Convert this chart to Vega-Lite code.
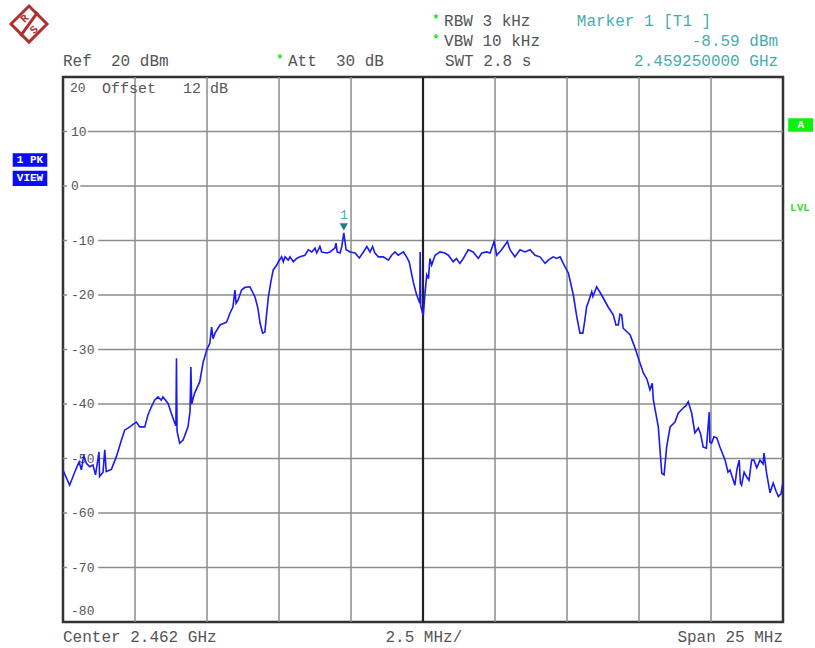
{
"$schema":"https://vega.github.io/schema/vega-lite/v6.json",
"autosize":{"type":"none"},
"width":720,"height":545,
"padding":{"left":63,"top":77,"right":32,"bottom":26},
"background":"white",
"config":{"axis":{"disable":true},"view":{"stroke":"#333333","strokeWidth":2.5},"text":{"font":"Liberation Mono"}},
"datasets":{
"trace":[{"mhz":0.00,"dbm":-52.1},{"mhz":0.23,"dbm":-54.9},{"mhz":0.46,"dbm":-51.8},{"mhz":0.56,"dbm":-50.6},{"mhz":0.64,"dbm":-52.1},{"mhz":0.72,"dbm":-49.4},{"mhz":0.81,"dbm":-50.9},{"mhz":0.93,"dbm":-51.5},{"mhz":1.04,"dbm":-51.2},{"mhz":1.13,"dbm":-53},{"mhz":1.25,"dbm":-48.8},{"mhz":1.27,"dbm":-53.3},{"mhz":1.39,"dbm":-52.5},{"mhz":1.45,"dbm":-48.4},{"mhz":1.50,"dbm":-52.4},{"mhz":1.68,"dbm":-52},{"mhz":1.85,"dbm":-49.7},{"mhz":2.03,"dbm":-46.6},{"mhz":2.14,"dbm":-44.8},{"mhz":2.32,"dbm":-44.2},{"mhz":2.49,"dbm":-43.5},{"mhz":2.55,"dbm":-43.3},{"mhz":2.66,"dbm":-44.2},{"mhz":2.84,"dbm":-44.2},{"mhz":2.95,"dbm":-42},{"mhz":3.07,"dbm":-40.5},{"mhz":3.18,"dbm":-39.3},{"mhz":3.30,"dbm":-38.7},{"mhz":3.41,"dbm":-39.3},{"mhz":3.47,"dbm":-38.7},{"mhz":3.65,"dbm":-39.9},{"mhz":3.76,"dbm":-41.7},{"mhz":3.88,"dbm":-43.5},{"mhz":3.92,"dbm":-44},{"mhz":3.94,"dbm":-31.6},{"mhz":3.96,"dbm":-45},{"mhz":4.05,"dbm":-47.2},{"mhz":4.17,"dbm":-46.6},{"mhz":4.34,"dbm":-44.2},{"mhz":4.41,"dbm":-41.4},{"mhz":4.44,"dbm":-33.2},{"mhz":4.47,"dbm":-40},{"mhz":4.57,"dbm":-38},{"mhz":4.75,"dbm":-35.9},{"mhz":4.86,"dbm":-32.5},{"mhz":4.99,"dbm":-30.1},{"mhz":5.10,"dbm":-28.8},{"mhz":5.16,"dbm":-25.9},{"mhz":5.21,"dbm":-28},{"mhz":5.28,"dbm":-27},{"mhz":5.45,"dbm":-25.5},{"mhz":5.68,"dbm":-25},{"mhz":5.80,"dbm":-23.3},{"mhz":5.90,"dbm":-22.2},{"mhz":5.97,"dbm":-19.1},{"mhz":6.01,"dbm":-21.5},{"mhz":6.08,"dbm":-20.9},{"mhz":6.20,"dbm":-19.1},{"mhz":6.32,"dbm":-18.6},{"mhz":6.49,"dbm":-18.5},{"mhz":6.67,"dbm":-20.4},{"mhz":6.77,"dbm":-22.5},{"mhz":6.84,"dbm":-25.1},{"mhz":6.93,"dbm":-27},{"mhz":7.01,"dbm":-26.8},{"mhz":7.06,"dbm":-24},{"mhz":7.13,"dbm":-20.4},{"mhz":7.22,"dbm":-17.5},{"mhz":7.30,"dbm":-15.4},{"mhz":7.42,"dbm":-14.5},{"mhz":7.48,"dbm":-13.9},{"mhz":7.59,"dbm":-13.0},{"mhz":7.65,"dbm":-13.9},{"mhz":7.71,"dbm":-13.0},{"mhz":7.82,"dbm":-13.6},{"mhz":7.88,"dbm":-13.0},{"mhz":8.00,"dbm":-13.9},{"mhz":8.11,"dbm":-13.3},{"mhz":8.23,"dbm":-13.0},{"mhz":8.40,"dbm":-12.7},{"mhz":8.52,"dbm":-11.7},{"mhz":8.64,"dbm":-12.1},{"mhz":8.75,"dbm":-11.4},{"mhz":8.81,"dbm":-12.3},{"mhz":8.92,"dbm":-11.1},{"mhz":8.98,"dbm":-12.1},{"mhz":9.16,"dbm":-12.3},{"mhz":9.27,"dbm":-12.1},{"mhz":9.44,"dbm":-11.4},{"mhz":9.48,"dbm":-10.5},{"mhz":9.52,"dbm":-12.1},{"mhz":9.62,"dbm":-12.3},{"mhz":9.68,"dbm":-11.1},{"mhz":9.75,"dbm":-8.59},{"mhz":9.83,"dbm":-11.7},{"mhz":9.97,"dbm":-12.1},{"mhz":10.14,"dbm":-12.3},{"mhz":10.29,"dbm":-13.2},{"mhz":10.43,"dbm":-12.1},{"mhz":10.55,"dbm":-11.1},{"mhz":10.66,"dbm":-12.1},{"mhz":10.75,"dbm":-11.1},{"mhz":10.83,"dbm":-12.3},{"mhz":10.95,"dbm":-13.0},{"mhz":11.12,"dbm":-13.0},{"mhz":11.30,"dbm":-13.6},{"mhz":11.41,"dbm":-12.7},{"mhz":11.53,"dbm":-12.1},{"mhz":11.64,"dbm":-12.7},{"mhz":11.82,"dbm":-12.1},{"mhz":11.93,"dbm":-13.0},{"mhz":12.02,"dbm":-13.9},{"mhz":12.16,"dbm":-17.6},{"mhz":12.28,"dbm":-20.0},{"mhz":12.37,"dbm":-21.2},{"mhz":12.39,"dbm":-21.5},{"mhz":12.40,"dbm":-12.1},{"mhz":12.42,"dbm":-22},{"mhz":12.49,"dbm":-23.4},{"mhz":12.51,"dbm":-23.7},{"mhz":12.57,"dbm":-19.6},{"mhz":12.63,"dbm":-16.3},{"mhz":12.69,"dbm":-17},{"mhz":12.74,"dbm":-13.3},{"mhz":12.80,"dbm":-14.5},{"mhz":12.92,"dbm":-12.7},{"mhz":13.09,"dbm":-12.1},{"mhz":13.26,"dbm":-12.3},{"mhz":13.38,"dbm":-12.7},{"mhz":13.55,"dbm":-13.9},{"mhz":13.66,"dbm":-13.3},{"mhz":13.78,"dbm":-14.2},{"mhz":13.90,"dbm":-13.3},{"mhz":14.07,"dbm":-11.7},{"mhz":14.24,"dbm":-12.1},{"mhz":14.42,"dbm":-13.3},{"mhz":14.54,"dbm":-12.3},{"mhz":14.71,"dbm":-12.1},{"mhz":14.83,"dbm":-12.3},{"mhz":14.97,"dbm":-10.2},{"mhz":15.06,"dbm":-12.7},{"mhz":15.23,"dbm":-11.7},{"mhz":15.43,"dbm":-10.2},{"mhz":15.52,"dbm":-11.7},{"mhz":15.69,"dbm":-13.0},{"mhz":15.87,"dbm":-11.7},{"mhz":16.04,"dbm":-12.1},{"mhz":16.22,"dbm":-11.7},{"mhz":16.39,"dbm":-12.7},{"mhz":16.56,"dbm":-13.0},{"mhz":16.74,"dbm":-14.2},{"mhz":16.85,"dbm":-13.6},{"mhz":17.02,"dbm":-13.0},{"mhz":17.14,"dbm":-13.3},{"mhz":17.26,"dbm":-13.0},{"mhz":17.37,"dbm":-14.2},{"mhz":17.55,"dbm":-16.0},{"mhz":17.72,"dbm":-20.0},{"mhz":17.84,"dbm":-24},{"mhz":17.95,"dbm":-27},{"mhz":18.05,"dbm":-27},{"mhz":18.11,"dbm":-25},{"mhz":18.18,"dbm":-22.2},{"mhz":18.26,"dbm":-21},{"mhz":18.36,"dbm":-19.4},{"mhz":18.40,"dbm":-20.3},{"mhz":18.53,"dbm":-18.5},{"mhz":18.70,"dbm":-20},{"mhz":18.93,"dbm":-22.2},{"mhz":19.11,"dbm":-23.7},{"mhz":19.20,"dbm":-25.5},{"mhz":19.28,"dbm":-25.5},{"mhz":19.34,"dbm":-23.5},{"mhz":19.40,"dbm":-23.7},{"mhz":19.45,"dbm":-26.1},{"mhz":19.69,"dbm":-27.3},{"mhz":19.86,"dbm":-29.7},{"mhz":19.98,"dbm":-31.6},{"mhz":20.15,"dbm":-34.3},{"mhz":20.28,"dbm":-35.5},{"mhz":20.38,"dbm":-37.4},{"mhz":20.46,"dbm":-36.2},{"mhz":20.50,"dbm":-39.3},{"mhz":20.67,"dbm":-44.2},{"mhz":20.79,"dbm":-52.7},{"mhz":20.87,"dbm":-53},{"mhz":20.96,"dbm":-47.9},{"mhz":21.08,"dbm":-44.2},{"mhz":21.25,"dbm":-43.3},{"mhz":21.36,"dbm":-41.7},{"mhz":21.54,"dbm":-40.7},{"mhz":21.63,"dbm":-40.3},{"mhz":21.71,"dbm":-39.6},{"mhz":21.83,"dbm":-41.7},{"mhz":21.94,"dbm":-45.3},{"mhz":22.06,"dbm":-44.4},{"mhz":22.14,"dbm":-45.5},{"mhz":22.23,"dbm":-47.9},{"mhz":22.34,"dbm":-48.1},{"mhz":22.44,"dbm":-41.5},{"mhz":22.46,"dbm":-47},{"mhz":22.52,"dbm":-47.2},{"mhz":22.60,"dbm":-46},{"mhz":22.70,"dbm":-46.2},{"mhz":22.81,"dbm":-47.9},{"mhz":22.99,"dbm":-50.3},{"mhz":23.09,"dbm":-52.5},{"mhz":23.16,"dbm":-52.1},{"mhz":23.33,"dbm":-54.9},{"mhz":23.40,"dbm":-52},{"mhz":23.48,"dbm":-50.3},{"mhz":23.52,"dbm":-54.5},{"mhz":23.56,"dbm":-54.9},{"mhz":23.65,"dbm":-52.5},{"mhz":23.74,"dbm":-53.4},{"mhz":23.82,"dbm":-54},{"mhz":23.91,"dbm":-50.3},{"mhz":23.99,"dbm":-50.3},{"mhz":24.09,"dbm":-51.7},{"mhz":24.20,"dbm":-50.3},{"mhz":24.31,"dbm":-51},{"mhz":24.34,"dbm":-49},{"mhz":24.43,"dbm":-52.7},{"mhz":24.55,"dbm":-56.3},{"mhz":24.66,"dbm":-54.5},{"mhz":24.76,"dbm":-56},{"mhz":24.84,"dbm":-57},{"mhz":24.93,"dbm":-56.5},{"mhz":25.00,"dbm":-54.3}],
"vgrid":[{"mhz":2.5},{"mhz":5},{"mhz":7.5},{"mhz":10},{"mhz":15},{"mhz":17.5},{"mhz":20},{"mhz":22.5}],
"hgrid":[{"level":10,"label":"10"},{"level":0,"label":"0"},{"level":-10,"label":"-10"},{"level":-20,"label":"-20"},{"level":-30,"label":"-30"},{"level":-40,"label":"-40"},{"level":-50,"label":"-50"},{"level":-60,"label":"-60"},{"level":-70,"label":"-70"}]
},
"layer":[
{"data":{"name":"vgrid"},"mark":{"type":"rule","color":"#8c8c8c","strokeWidth":1.5},
 "encoding":{"x":{"field":"mhz","type":"quantitative","scale":{"domain":[0,25],"nice":false,"zero":false}},"y":{"datum":20,"scale":{"domain":[-80,20],"nice":false,"zero":false}},"y2":{"datum":-80}}},
{"data":{"name":"hgrid"},"transform":[{"filter":"datum.level > 0"}],"mark":{"type":"rule","color":"#8c8c8c","strokeWidth":1.5},
 "encoding":{"x":{"datum":0.87,"scale":{"domain":[0,25],"nice":false,"zero":false}},"x2":{"datum":25},"y":{"field":"level","type":"quantitative","scale":{"domain":[-80,20],"nice":false,"zero":false}}}},
{"data":{"name":"hgrid"},"transform":[{"filter":"datum.level == 0"}],"mark":{"type":"rule","color":"#8c8c8c","strokeWidth":1.5},
 "encoding":{"x":{"datum":0.6,"scale":{"domain":[0,25],"nice":false,"zero":false}},"x2":{"datum":25},"y":{"field":"level","type":"quantitative","scale":{"domain":[-80,20],"nice":false,"zero":false}}}},
{"data":{"name":"hgrid"},"transform":[{"filter":"datum.level < 0"}],"mark":{"type":"rule","color":"#8c8c8c","strokeWidth":1.5},
 "encoding":{"x":{"datum":1.22,"scale":{"domain":[0,25],"nice":false,"zero":false}},"x2":{"datum":25},"y":{"field":"level","type":"quantitative","scale":{"domain":[-80,20],"nice":false,"zero":false}}}},
{"data":{"name":"hgrid"},"mark":{"type":"rule","color":"#8c8c8c","strokeWidth":1.5},
 "encoding":{"x":{"datum":0,"scale":{"domain":[0,25],"nice":false,"zero":false}},"x2":{"datum":0.14},"y":{"field":"level","type":"quantitative","scale":{"domain":[-80,20],"nice":false,"zero":false}}}},
{"data":{"name":"hgrid"},"mark":{"type":"text","align":"left","baseline":"middle","fontSize":13,"color":"#555555"},
 "encoding":{"x":{"datum":0.28,"scale":{"domain":[0,25],"nice":false,"zero":false}},"y":{"field":"level","type":"quantitative","scale":{"domain":[-80,20],"nice":false,"zero":false}},"text":{"field":"label"}}},
{"data":{"values":[{}]},"mark":{"type":"rule","color":"#222222","strokeWidth":2.2},
 "encoding":{"x":{"datum":12.5,"scale":{"domain":[0,25],"nice":false,"zero":false}},"y":{"datum":20,"scale":{"domain":[-80,20],"nice":false,"zero":false}},"y2":{"datum":-80}}},
{"data":{"name":"trace"},"mark":{"type":"line","color":"#1a1af2","strokeWidth":1.6,"clip":true},
 "encoding":{"x":{"field":"mhz","type":"quantitative","scale":{"domain":[0,25],"nice":false,"zero":false}},"y":{"field":"dbm","type":"quantitative","scale":{"domain":[-80,20],"nice":false,"zero":false}}}},
{"data":{"values":[{}]},"mark":{"type":"point","shape":"triangle-down","filled":true,"size":70,"color":"#1a8080","opacity":1},
 "encoding":{"x":{"datum":9.75,"scale":{"domain":[0,25],"nice":false,"zero":false}},"y":{"datum":-7.5,"scale":{"domain":[-80,20],"nice":false,"zero":false}}}},
{"data":{"values":[{}]},"mark":{"type":"text","text":"1","align":"center","baseline":"middle","fontSize":13,"color":"#4aacac"},
 "encoding":{"x":{"datum":9.75,"scale":{"domain":[0,25],"nice":false,"zero":false}},"y":{"datum":-5.3,"scale":{"domain":[-80,20],"nice":false,"zero":false}}}},
{"data":{"values":[{}]},"mark":{"type":"text","text":"20","align":"left","baseline":"middle","fontSize":13,"color":"#555555"},
 "encoding":{"x":{"datum":0.24,"scale":{"domain":[0,25],"nice":false,"zero":false}},"y":{"datum":18,"scale":{"domain":[-80,20],"nice":false,"zero":false}}}},
{"data":{"values":[{}]},"mark":{"type":"text","text":"Offset","align":"left","baseline":"middle","fontSize":15,"color":"#555555"},
 "encoding":{"x":{"datum":1.35,"scale":{"domain":[0,25],"nice":false,"zero":false}},"y":{"datum":18,"scale":{"domain":[-80,20],"nice":false,"zero":false}}}},
{"data":{"values":[{}]},"mark":{"type":"text","text":"12","align":"left","baseline":"middle","fontSize":15,"color":"#555555"},
 "encoding":{"x":{"datum":4.17,"scale":{"domain":[0,25],"nice":false,"zero":false}},"y":{"datum":18,"scale":{"domain":[-80,20],"nice":false,"zero":false}}}},
{"data":{"values":[{}]},"mark":{"type":"text","text":"dB","align":"left","baseline":"middle","fontSize":15,"color":"#555555"},
 "encoding":{"x":{"datum":5.1,"scale":{"domain":[0,25],"nice":false,"zero":false}},"y":{"datum":18,"scale":{"domain":[-80,20],"nice":false,"zero":false}}}},
{"data":{"values":[{}]},"mark":{"type":"text","text":"-80","align":"left","baseline":"middle","fontSize":13,"color":"#555555"},
 "encoding":{"x":{"datum":0.28,"scale":{"domain":[0,25],"nice":false,"zero":false}},"y":{"datum":-78,"scale":{"domain":[-80,20],"nice":false,"zero":false}}}},
{"data":{"values":[{}]},"mark":{"type":"text","text":"Ref\u00a0\u00a020 dBm","align":"left","baseline":"middle","fontSize":16,"color":"#555555"},
 "encoding":{"x":{"datum":0,"scale":{"domain":[0,25],"nice":false,"zero":false}},"y":{"datum":22.94,"scale":{"domain":[-80,20],"nice":false,"zero":false}}}},
{"data":{"values":[{}]},"mark":{"type":"text","text":"*","align":"center","baseline":"middle","fontSize":12,"fontWeight":"bold","color":"#22dd22"},
 "encoding":{"x":{"datum":7.53,"scale":{"domain":[0,25],"nice":false,"zero":false}},"y":{"datum":23.3,"scale":{"domain":[-80,20],"nice":false,"zero":false}}}},
{"data":{"values":[{}]},"mark":{"type":"text","text":"Att\u00a0\u00a030 dB","align":"left","baseline":"middle","fontSize":16,"color":"#555555"},
 "encoding":{"x":{"datum":7.81,"scale":{"domain":[0,25],"nice":false,"zero":false}},"y":{"datum":22.94,"scale":{"domain":[-80,20],"nice":false,"zero":false}}}},
{"data":{"values":[{}]},"mark":{"type":"text","text":"*","align":"center","baseline":"middle","fontSize":12,"fontWeight":"bold","color":"#22dd22"},
 "encoding":{"x":{"datum":12.95,"scale":{"domain":[0,25],"nice":false,"zero":false}},"y":{"datum":30.7,"scale":{"domain":[-80,20],"nice":false,"zero":false}}}},
{"data":{"values":[{}]},"mark":{"type":"text","text":"RBW 3 kHz","align":"left","baseline":"middle","fontSize":16,"color":"#555555"},
 "encoding":{"x":{"datum":13.23,"scale":{"domain":[0,25],"nice":false,"zero":false}},"y":{"datum":30.33,"scale":{"domain":[-80,20],"nice":false,"zero":false}}}},
{"data":{"values":[{}]},"mark":{"type":"text","text":"*","align":"center","baseline":"middle","fontSize":12,"fontWeight":"bold","color":"#22dd22"},
 "encoding":{"x":{"datum":12.95,"scale":{"domain":[0,25],"nice":false,"zero":false}},"y":{"datum":27.0,"scale":{"domain":[-80,20],"nice":false,"zero":false}}}},
{"data":{"values":[{}]},"mark":{"type":"text","text":"VBW 10 kHz","align":"left","baseline":"middle","fontSize":16,"color":"#555555"},
 "encoding":{"x":{"datum":13.23,"scale":{"domain":[0,25],"nice":false,"zero":false}},"y":{"datum":26.6,"scale":{"domain":[-80,20],"nice":false,"zero":false}}}},
{"data":{"values":[{}]},"mark":{"type":"text","text":"SWT 2.8 s","align":"left","baseline":"middle","fontSize":16,"color":"#555555"},
 "encoding":{"x":{"datum":13.26,"scale":{"domain":[0,25],"nice":false,"zero":false}},"y":{"datum":22.94,"scale":{"domain":[-80,20],"nice":false,"zero":false}}}},
{"data":{"values":[{}]},"mark":{"type":"text","text":"Marker 1 [T1 ]","align":"left","baseline":"middle","fontSize":16,"color":"#4aacac"},
 "encoding":{"x":{"datum":17.84,"scale":{"domain":[0,25],"nice":false,"zero":false}},"y":{"datum":30.33,"scale":{"domain":[-80,20],"nice":false,"zero":false}}}},
{"data":{"values":[{}]},"mark":{"type":"text","text":"-8.59 dBm","align":"right","baseline":"middle","fontSize":16,"color":"#4aacac"},
 "encoding":{"x":{"datum":24.83,"scale":{"domain":[0,25],"nice":false,"zero":false}},"y":{"datum":26.6,"scale":{"domain":[-80,20],"nice":false,"zero":false}}}},
{"data":{"values":[{}]},"mark":{"type":"text","text":"2.459250000 GHz","align":"right","baseline":"middle","fontSize":16,"color":"#4aacac"},
 "encoding":{"x":{"datum":24.83,"scale":{"domain":[0,25],"nice":false,"zero":false}},"y":{"datum":22.94,"scale":{"domain":[-80,20],"nice":false,"zero":false}}}},
{"data":{"values":[{}]},"mark":{"type":"text","text":"Center 2.462 GHz","align":"left","baseline":"middle","fontSize":16,"color":"#555555"},
 "encoding":{"x":{"datum":0,"scale":{"domain":[0,25],"nice":false,"zero":false}},"y":{"datum":-82.75,"scale":{"domain":[-80,20],"nice":false,"zero":false}}}},
{"data":{"values":[{}]},"mark":{"type":"text","text":"2.5 MHz/","align":"center","baseline":"middle","fontSize":16,"color":"#555555"},
 "encoding":{"x":{"datum":12.53,"scale":{"domain":[0,25],"nice":false,"zero":false}},"y":{"datum":-82.75,"scale":{"domain":[-80,20],"nice":false,"zero":false}}}},
{"data":{"values":[{}]},"mark":{"type":"text","text":"Span 25 MHz","align":"right","baseline":"middle","fontSize":16,"color":"#555555"},
 "encoding":{"x":{"datum":25,"scale":{"domain":[0,25],"nice":false,"zero":false}},"y":{"datum":-82.75,"scale":{"domain":[-80,20],"nice":false,"zero":false}}}},
{"data":{"values":[{}]},"mark":{"type":"rect","color":"#0a0aff"},
 "encoding":{"x":{"datum":-1.747,"scale":{"domain":[0,25],"nice":false,"zero":false}},"x2":{"datum":-0.545},"y":{"datum":6.0,"scale":{"domain":[-80,20],"nice":false,"zero":false}},"y2":{"datum":3.54}}},
{"data":{"values":[{}]},"mark":{"type":"rect","color":"#0a0aff"},
 "encoding":{"x":{"datum":-1.747,"scale":{"domain":[0,25],"nice":false,"zero":false}},"x2":{"datum":-0.545},"y":{"datum":2.81,"scale":{"domain":[-80,20],"nice":false,"zero":false}},"y2":{"datum":0.0}}},
{"data":{"values":[{}]},"mark":{"type":"text","text":"1 PK","align":"center","baseline":"middle","fontSize":11,"fontWeight":"bold","color":"white"},
 "encoding":{"x":{"datum":-1.146,"scale":{"domain":[0,25],"nice":false,"zero":false}},"y":{"datum":4.77,"scale":{"domain":[-80,20],"nice":false,"zero":false}}}},
{"data":{"values":[{}]},"mark":{"type":"text","text":"VIEW","align":"center","baseline":"middle","fontSize":11,"fontWeight":"bold","color":"white"},
 "encoding":{"x":{"datum":-1.146,"scale":{"domain":[0,25],"nice":false,"zero":false}},"y":{"datum":1.41,"scale":{"domain":[-80,20],"nice":false,"zero":false}}}},
{"data":{"values":[{}]},"mark":{"type":"rect","color":"#11ee11"},
 "encoding":{"x":{"datum":25.18,"scale":{"domain":[0,25],"nice":false,"zero":false}},"x2":{"datum":26.05},"y":{"datum":12.42,"scale":{"domain":[-80,20],"nice":false,"zero":false}},"y2":{"datum":9.96}}},
{"data":{"values":[{}]},"mark":{"type":"text","text":"A","align":"center","baseline":"middle","fontSize":11,"fontWeight":"bold","color":"white"},
 "encoding":{"x":{"datum":25.62,"scale":{"domain":[0,25],"nice":false,"zero":false}},"y":{"datum":11.19,"scale":{"domain":[-80,20],"nice":false,"zero":false}}}},
{"data":{"values":[{}]},"mark":{"type":"text","text":"LVL","align":"center","baseline":"middle","fontSize":11,"fontWeight":"bold","color":"#33dd33"},
 "encoding":{"x":{"datum":25.59,"scale":{"domain":[0,25],"nice":false,"zero":false}},"y":{"datum":-4.09,"scale":{"domain":[-80,20],"nice":false,"zero":false}}}},
{"data":{"values":[{}]},"mark":{"type":"point","shape":"diamond","filled":false,"size":1300,"color":"#b03030","strokeWidth":3,"opacity":1},
 "encoding":{"x":{"datum":-1.18,"scale":{"domain":[0,25],"nice":false,"zero":false}},"y":{"datum":29.72,"scale":{"domain":[-80,20],"nice":false,"zero":false}}}},
{"data":{"values":[{}]},"mark":{"type":"text","text":"R","align":"center","baseline":"middle","fontSize":11,"fontWeight":"bold","angle":315,"color":"#b03030"},
 "encoding":{"x":{"datum":-1.33,"scale":{"domain":[0,25],"nice":false,"zero":false}},"y":{"datum":30.7,"scale":{"domain":[-80,20],"nice":false,"zero":false}}}},
{"data":{"values":[{}]},"mark":{"type":"text","text":"S","align":"center","baseline":"middle","fontSize":11,"fontWeight":"bold","angle":315,"color":"#b03030"},
 "encoding":{"x":{"datum":-1.0,"scale":{"domain":[0,25],"nice":false,"zero":false}},"y":{"datum":28.6,"scale":{"domain":[-80,20],"nice":false,"zero":false}}}},
{"data":{"values":[{}]},"mark":{"type":"rule","color":"#b03030","strokeWidth":3},
 "encoding":{"x":{"datum":-1.48,"scale":{"domain":[0,25],"nice":false,"zero":false}},"x2":{"datum":-0.88},"y":{"datum":27.5,"scale":{"domain":[-80,20],"nice":false,"zero":false}},"y2":{"datum":31.9}}}
]
}
